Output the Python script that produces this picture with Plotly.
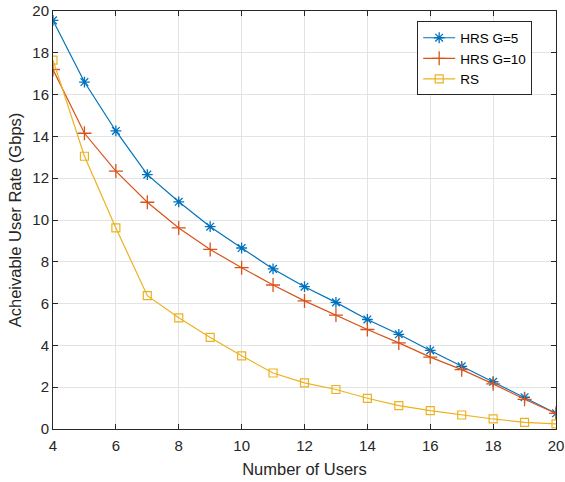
import plotly.graph_objects as go

users = [4, 5, 6, 7, 8, 9, 10, 11, 12, 13, 14, 15, 16, 17, 18, 19, 20]
hrs_g5 = [19.55, 16.6, 14.26, 12.17, 10.87, 9.68, 8.66, 7.66, 6.81, 6.06, 5.24, 4.53, 3.76, 3.0, 2.26, 1.52, 0.75]
hrs_g10 = [17.2, 14.15, 12.34, 10.85, 9.62, 8.59, 7.72, 6.89, 6.13, 5.45, 4.76, 4.12, 3.44, 2.84, 2.16, 1.42, 0.75]
rs = [17.65, 13.05, 9.62, 6.38, 5.32, 4.38, 3.5, 2.68, 2.21, 1.89, 1.47, 1.12, 0.88, 0.67, 0.48, 0.32, 0.25]

x_ticks = [4, 6, 8, 10, 12, 14, 16, 18, 20]
y_ticks = [0, 2, 4, 6, 8, 10, 12, 14, 16, 18, 20]

FONT = "Liberation Sans, Arial, sans-serif"

fig = go.Figure()
fig.add_trace(go.Scatter(x=users, y=hrs_g5, mode="lines+markers", name="HRS G=5",
                         line=dict(color="#0072BD", width=1.2),
                         marker=dict(symbol="asterisk-open", size=9, color="#0072BD",
                                     line=dict(color="#0072BD", width=1.3))))
fig.add_trace(go.Scatter(x=users, y=hrs_g10, mode="lines+markers", name="HRS G=10",
                         line=dict(color="#D95319", width=1.2),
                         marker=dict(symbol="cross-thin-open", size=10, color="#D95319",
                                     line=dict(color="#D95319", width=1.3))))
fig.add_trace(go.Scatter(x=users, y=rs, mode="lines+markers", name="RS",
                         line=dict(color="#EDB120", width=1.2),
                         marker=dict(symbol="square-open", size=8, color="#EDB120",
                                     line=dict(color="#EDB120", width=1.2))))

axis_common = dict(showline=True, linecolor="#262626", linewidth=1, mirror="ticks",
                   ticks="inside", ticklen=5, tickcolor="#262626", automargin=False,
                   showgrid=True, gridcolor="#e3e3e3", gridwidth=1, zeroline=False,
                   tickfont=dict(family=FONT, size=15, color="#262626"))

fig.update_layout(
    width=565, height=482,
    margin=dict(l=53, r=9, t=11, b=53),
    paper_bgcolor="white", plot_bgcolor="white",
    font=dict(family=FONT, size=15, color="#262626"),
    xaxis=dict(range=[4, 20], tickvals=x_ticks, ticklabelstandoff=3,
               title=dict(text="Number of Users", font=dict(size=16.5), standoff=10),
               **axis_common),
    yaxis=dict(range=[0, 20], tickvals=y_ticks,
               title=dict(text="Acheivable User Rate (Gbps)", font=dict(size=16.5), standoff=6),
               **axis_common),
    legend=dict(x=0.724, y=0.975, xanchor="left", yanchor="top",
                bgcolor="white", bordercolor="#262626", borderwidth=1,
                font=dict(family=FONT, size=13.5, color="#000000"), tracegroupgap=0,
                itemwidth=32),
    showlegend=True,
)

fig.write_html("out.html", config={"displayModeBar": False},
               post_script="document.body.style.margin='0px';")
